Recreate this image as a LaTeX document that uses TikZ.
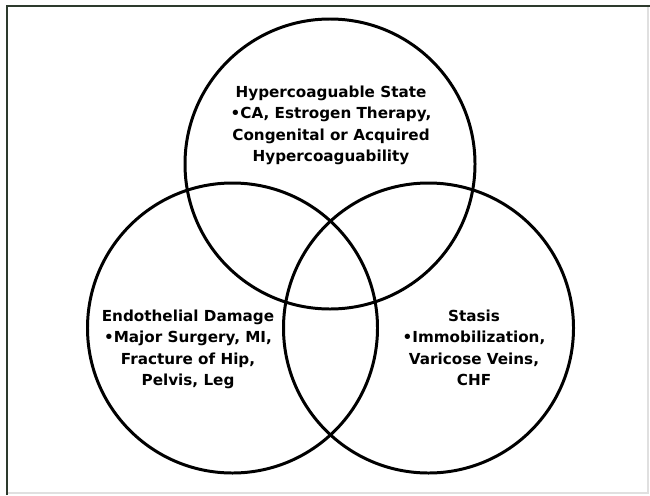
\documentclass[tikz,border=0pt]{standalone}
\usepackage{fontspec}
\setmainfont{DejaVu Sans}
\definecolor{framegray}{RGB}{45,58,45}
\newcommand{\lbl}{\bfseries\fontsize{8.65}{12.2}\selectfont}

\begin{document}
\begin{tikzpicture}[
	set/.style={circle,draw,line width=1.7pt,minimum size=5.8cm,inner sep=0pt},
	txt/.style={anchor=north,align=center,inner sep=0pt,font=\lbl}]
	\useasboundingbox (0,0) rectangle (13,-9.9);
	\draw[black!12,line width=0.6pt](12.96,-0.12)--(12.96,-9.86)--(0.14,-9.86);
	\draw[framegray,line width=1.2pt](0.14,-9.9)--(0.14,-0.12)--(13,-0.12);
	
	\node[set] at (6.6,-3.28)(hyp){};
	\node[set] at (4.65,-6.56)(endo){};
	\node[set] at (8.57,-6.56)(stas){};
	
	\node[txt] at (6.62,-1.71)(hyptxt){Hypercoaguable State\\•CA, Estrogen Therapy,\\Congenital or Acquired\\Hypercoaguability};
	\node[txt] at (3.76,-6.19)(endotxt){Endothelial Damage\\•Major Surgery, MI,\\Fracture of Hip,\\Pelvis, Leg};
	\node[txt] at (9.48,-6.19)(stastxt){Stasis\\•Immobilization,\\Varicose Veins,\\CHF};
	
\end{tikzpicture}
\end{document}
